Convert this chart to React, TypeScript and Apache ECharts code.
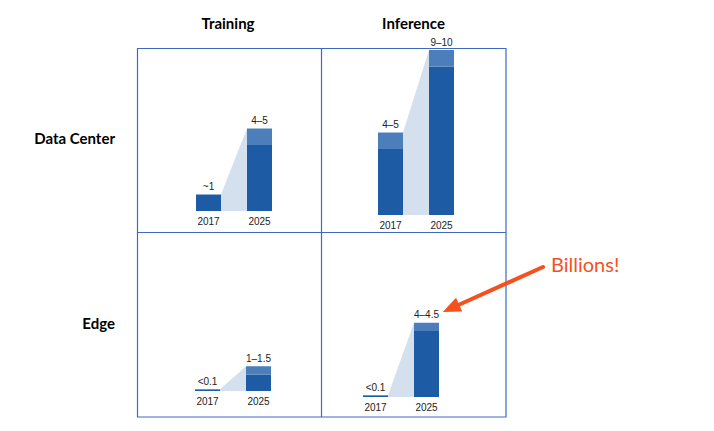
import React, { useEffect, useRef } from "react";
import * as echarts from "echarts";

// ---- data ----
const categories = ["2017", "2025"];
const columnTitles = ["Training", "Inference"];
const rowTitles = ["Data Center", "Edge"];
// panels: Training/DC, Inference/DC, Training/Edge, Inference/Edge
const lowTrainDC = [1, 4];
const highTrainDC = [1, 5];
const lowInferDC = [4, 9];
const highInferDC = [5, 10];
const lowTrainEdge = [0.1, 1];
const highTrainEdge = [0.1, 1.5];
const lowInferEdge = [0.1, 4];
const highInferEdge = [0.1, 4.5];
const labelsTrainDC = ["~1", "4–5"];
const labelsInferDC = ["4–5", "9–10"];
const labelsTrainEdge = ["<0.1", "1–1.5"];
const labelsInferEdge = ["<0.1", "4–4.5"];
const annotationText = "Billions!";

const panelLows = [lowTrainDC, lowInferDC, lowTrainEdge, lowInferEdge];
const panelHighs = [highTrainDC, highInferDC, highTrainEdge, highInferEdge];
const panelLabels = [labelsTrainDC, labelsInferDC, labelsTrainEdge, labelsInferEdge];

// ---- layout / style ----
const gridPos = [
  { left: 183, top: 46 },
  { left: 365, top: 50 },
  { left: 182, top: 226 },
  { left: 350, top: 232 },
];
const GRID_W = 102;
const GRID_H = 165;
const BAR_W = 25;
const DARK = "#1d5ba5";
const LIGHT = "#4b7eba";
const SHADE = "#d5e0ee";
const BORDER = "#3d69c2";
const ORANGE = "#f4511e";

export default function App() {
  const ref = useRef<HTMLDivElement>(null);
  useEffect(() => {
    if (!ref.current) return;
    const chart = echarts.init(ref.current, null, { renderer: "svg" });

    const grid: any[] = [];
    const xAxis: any[] = [];
    const yAxis: any[] = [];
    const series: any[] = [];

    panelLows.forEach((lows, p) => {
      const highs = panelHighs[p];
      grid.push({ left: gridPos[p].left, top: gridPos[p].top, width: GRID_W, height: GRID_H });
      xAxis.push({
        type: "category",
        gridIndex: p,
        data: categories,
        axisLine: { show: false },
        axisTick: { show: false },
        axisLabel: { color: "#222", fontSize: 10, fontFamily: "Liberation Sans", margin: 5 },
      });
      yAxis.push({
        type: "value",
        gridIndex: p,
        min: 0,
        max: 10,
        show: false,
        splitLine: { show: false },
      });
      series.push({
        type: "custom",
        xAxisIndex: p,
        yAxisIndex: p,
        z: 1,
        clip: false,
        silent: true,
        data: [[0, highs[0], highs[1]]],
        encode: { x: 0, y: 1 },
        renderItem: (params: any, api: any) => {
          const a = api.coord([0, api.value(1)]);
          const b = api.coord([1, api.value(2)]);
          const a0 = api.coord([0, 0]);
          const b0 = api.coord([1, 0]);
          const h = BAR_W / 2;
          return {
            type: "polygon",
            shape: {
              points: [
                [a[0] + h, a[1]],
                [b[0] - h, b[1]],
                [b0[0] - h, b0[1]],
                [a0[0] + h, a0[1]],
              ],
            },
            style: { fill: SHADE },
          };
        },
      });
      series.push({
        type: "bar",
        xAxisIndex: p,
        yAxisIndex: p,
        stack: "s" + p,
        z: 2,
        barWidth: BAR_W,
        data: lows,
        itemStyle: { color: DARK },
      });
      series.push({
        type: "bar",
        xAxisIndex: p,
        yAxisIndex: p,
        stack: "s" + p,
        z: 2,
        barWidth: BAR_W,
        data: highs.map((v, i) => +(v - lows[i]).toFixed(3)),
        itemStyle: { color: LIGHT },
        label: {
          show: true,
          position: "top",
          distance: 3,
          color: "#222",
          fontSize: 10,
          fontFamily: "Liberation Sans",
          formatter: (d: any) => panelLabels[p][d.dataIndex],
        },
      });
    });

    // arrow geometry
    const tail = [543, 267];
    const tip = [442.7, 312];
    const dx = tip[0] - tail[0];
    const dy = tip[1] - tail[1];
    const len = Math.hypot(dx, dy);
    const ux = dx / len, uy = dy / len;
    const headLen = 18, headHalf = 7.5;
    const bx = tip[0] - ux * headLen, by = tip[1] - uy * headLen;
    const nx = -uy, ny = ux;

    const headerFont = "bold 15px Lato";
    const graphic: any[] = [
      { type: "rect", shape: { x: 137.5, y: 48.5, width: 368.5, height: 368.5 }, style: { fill: "none", stroke: BORDER, lineWidth: 1.2 }, z: 10 },
      { type: "line", shape: { x1: 321.5, y1: 48.5, x2: 321.5, y2: 417 }, style: { stroke: BORDER, lineWidth: 1.2 }, z: 10 },
      { type: "line", shape: { x1: 137.5, y1: 232.5, x2: 506, y2: 232.5 }, style: { stroke: BORDER, lineWidth: 1.2 }, z: 10 },
      { type: "text", x: 228, y: 23, style: { text: columnTitles[0], font: headerFont, fill: "#000", textAlign: "center", textVerticalAlign: "middle" } },
      { type: "text", x: 413.5, y: 23, style: { text: columnTitles[1], font: headerFont, fill: "#000", textAlign: "center", textVerticalAlign: "middle" } },
      { type: "text", x: 115, y: 138, style: { text: rowTitles[0], font: headerFont, fill: "#000", textAlign: "right", textVerticalAlign: "middle" } },
      { type: "text", x: 115, y: 323, style: { text: rowTitles[1], font: headerFont, fill: "#000", textAlign: "right", textVerticalAlign: "middle" } },
      { type: "text", x: 551, y: 264, style: { text: annotationText, font: "20px Lato", fill: ORANGE, textAlign: "left", textVerticalAlign: "middle" } },
      { type: "line", shape: { x1: tail[0], y1: tail[1], x2: bx + ux * 2, y2: by + uy * 2 }, style: { stroke: ORANGE, lineWidth: 4, lineCap: "round" }, z: 20 },
      {
        type: "polygon",
        shape: { points: [tip, [bx + nx * headHalf, by + ny * headHalf], [bx - nx * headHalf, by - ny * headHalf]] },
        style: { fill: ORANGE },
        z: 20,
      },
    ];

    chart.setOption({
      animation: false,
      backgroundColor: "#fff",
      grid,
      xAxis,
      yAxis,
      series,
      graphic,
    });
    return () => chart.dispose();
  }, []);
  return <div ref={ref} style={{ position: "fixed", left: 0, top: 0, width: 714, height: 431 }} />;
}
